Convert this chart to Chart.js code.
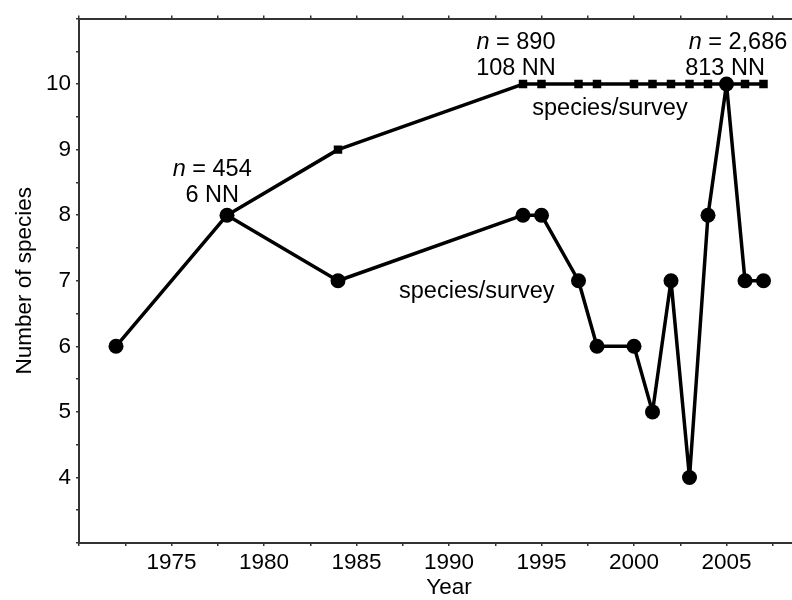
<!DOCTYPE html>
<html>
<head>
<meta charset="utf-8">
<script src="https://cdn.jsdelivr.net/npm/chart.js@4"></script>
<style>
  html, body { margin: 0; padding: 0; overflow: hidden; background: #fff; }
</style>
</head>
<body>
<canvas id="speciesChart" width="830" height="600"></canvas>
<script>
const surveyYears = [1972, 1978, 1984, 1994, 1995, 1997, 1998, 2000, 2001, 2002, 2003, 2004, 2005, 2006, 2007];
const speciesPerSurvey = [6, 8, 7, 8, 8, 7, 6, 6, 5, 7, 4, 8, 10, 7, 7];
const pooledYears = [1978, 1984, 1994, 1995, 1997, 1998, 2000, 2001, 2002, 2003, 2004, 2005, 2006, 2007];
const pooledSpecies = [8, 9, 10, 10, 10, 10, 10, 10, 10, 10, 10, 10, 10, 10];
const xTickLabels = [1975, 1980, 1985, 1990, 1995, 2000, 2005];
const yTickLabels = [4, 5, 6, 7, 8, 9, 10];

// text notes placed in data units (year, species)
const notes = [
  { text: 'n = 454', year: 1977.2, value: 8.69 },
  { text: '6 NN', year: 1977.2, value: 8.30 },
  { text: 'n = 890', year: 1993.62, value: 10.63 },
  { text: '108 NN', year: 1993.62, value: 10.24 },
  { text: 'n = 2,686', year: 2005.62, value: 10.63 },
  { text: '813 NN', year: 2004.92, value: 10.24 },
  { text: 'species/survey', year: 1998.7, value: 9.62 },
  { text: 'species/survey', year: 1991.5, value: 6.84 },
];

const FONT = '"Liberation Sans", Arial, sans-serif';
const NOTE_SIZE = 23.5;
const AXIS_COLOR = '#333';

const toPoints = (xs, ys) => xs.map((x, i) => ({ x, y: ys[i] }));

const notesPlugin = {
  id: 'notes',
  afterDatasetsDraw(chart) {
    const { ctx, scales } = chart;
    ctx.save();
    ctx.fillStyle = '#000';
    ctx.textBaseline = 'middle';
    ctx.textAlign = 'left';
    notes.forEach((note) => {
      const cx = scales.x.getPixelForValue(note.year);
      const cy = scales.y.getPixelForValue(note.value);
      const italic = note.text.startsWith('n ') ? 'n' : '';
      const rest = note.text.slice(italic.length);
      ctx.font = `italic ${NOTE_SIZE}px ${FONT}`;
      const wItalic = italic ? ctx.measureText(italic).width : 0;
      ctx.font = `${NOTE_SIZE}px ${FONT}`;
      const wRest = ctx.measureText(rest).width;
      let x = cx - (wItalic + wRest) / 2;
      if (italic) {
        ctx.font = `italic ${NOTE_SIZE}px ${FONT}`;
        ctx.fillText(italic, x, cy);
        x += wItalic;
        ctx.font = `${NOTE_SIZE}px ${FONT}`;
      }
      ctx.fillText(rest, x, cy);
    });
    ctx.restore();
  },
};

const axisGrid = { drawOnChartArea: false, drawTicks: true, tickLength: 3, color: AXIS_COLOR, lineWidth: 1.5 };
const axisBorder = { display: true, color: AXIS_COLOR, width: 2 };

new Chart(document.getElementById('speciesChart'), {
  type: 'line',
  data: {
    datasets: [
      {
        label: 'species/survey',
        data: toPoints(surveyYears, speciesPerSurvey),
        borderColor: '#000',
        backgroundColor: '#000',
        borderWidth: 3.5,
        borderJoinStyle: 'round',
        pointStyle: 'circle',
        pointRadius: 7.5,
        pointBorderWidth: 0,
        tension: 0,
      },
      {
        label: 'pooled species',
        data: toPoints(pooledYears, pooledSpecies),
        borderColor: '#000',
        backgroundColor: '#000',
        borderWidth: 3.5,
        borderJoinStyle: 'round',
        pointStyle: 'rect',
        pointRadius: 6,
        pointBorderWidth: 0,
        tension: 0,
      },
    ],
  },
  options: {
    responsive: false,
    animation: false,
    events: [],
    layout: { padding: { left: 0, right: 11, top: 0, bottom: 0 } },
    plugins: { legend: { display: false }, tooltip: { enabled: false } },
    scales: {
      x: {
        type: 'linear',
        position: 'bottom',
        min: 1970,
        max: 2010,
        grid: axisGrid,
        border: axisBorder,
        ticks: {
          stepSize: 2.5,
          autoSkip: false,
          maxRotation: 0,
          padding: 3,
          color: '#000',
          font: { family: FONT, size: 22.5 },
          callback: (v) => (xTickLabels.includes(v) ? String(v) : ''),
        },
        title: {
          display: true,
          text: 'Year',
          color: '#000',
          font: { family: FONT, size: 22.5, lineHeight: 1.1 },
          padding: { top: 0, bottom: 0 },
        },
        afterFit: (scale) => { scale.height = 57; },
      },
      xTop: {
        type: 'linear',
        position: 'top',
        min: 1970,
        max: 2010,
        grid: axisGrid,
        border: axisBorder,
        ticks: { stepSize: 2.5, autoSkip: false, display: false },
        afterFit: (scale) => { scale.height = 10; },
      },
      y: {
        type: 'linear',
        min: 3,
        max: 11,
        grid: axisGrid,
        border: axisBorder,
        ticks: {
          stepSize: 0.5,
          autoSkip: false,
          padding: 5,
          color: '#000',
          font: { family: FONT, size: 22.5 },
          callback: (v) => (yTickLabels.includes(v) ? String(v) : ''),
        },
        title: {
          display: true,
          text: 'Number of species',
          color: '#000',
          font: { family: FONT, size: 22.5, lineHeight: 1.1 },
          padding: { top: 12, bottom: 0 },
        },
        afterFit: (scale) => { scale.width = 79; },
      },
    },
  },
  plugins: [notesPlugin],
});
</script>
</body>
</html>
